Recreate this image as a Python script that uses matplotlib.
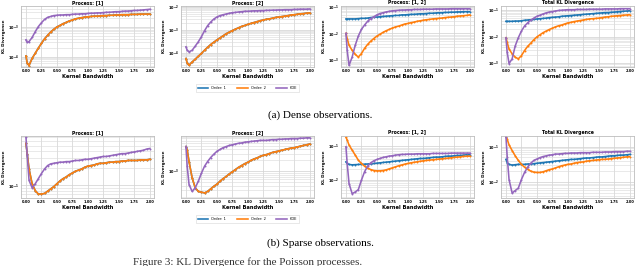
import numpy as np
import matplotlib
matplotlib.use("Agg")
import matplotlib.pyplot as plt
from matplotlib.ticker import LogLocator, NullFormatter, FixedLocator

# ---------------- data (log10 of KL divergence) ----------------
bandwidth = [0.0, 0.02, 0.05, 0.10, 0.15, 0.20, 0.25, 0.30, 0.35, 0.40, 0.45, 0.50,
             0.55, 0.60, 0.65, 0.70, 0.75, 0.80, 0.85, 0.90, 0.95, 1.00, 1.05, 1.10,
             1.15, 1.20, 1.25, 1.30, 1.35, 1.40, 1.45, 1.50, 1.55, 1.60, 1.65, 1.70,
             1.75, 1.80, 1.85, 1.90, 1.95, 2.00]

titles = ["Process: [1]", "Process: [2]", "Process: [1, 2]", "Total KL Divergence"]
legend_labels = ["Order: 1", "Order: 2", "KDE"]
xtick_vals = [0.0, 0.25, 0.5, 0.75, 1.0, 1.25, 1.5, 1.75, 2.0]
captions = ["(a) Dense observations.", "(b) Sparse observations."]

# Dense observations
dense_p1_order2 = [-3.98, -4.22, -4.30, -4.06, -3.89, -3.72, -3.56, -3.41, -3.29, -3.18, -3.09, -3.01,
                   -2.96, -2.90, -2.86, -2.81, -2.78, -2.74, -2.72, -2.70, -2.68, -2.67, -2.66, -2.65,
                   -2.65, -2.64, -2.63, -2.63, -2.62, -2.62, -2.61, -2.61, -2.60, -2.60, -2.60, -2.59,
                   -2.59, -2.59, -2.58, -2.58, -2.58, -2.58]
dense_p1_order1 = list(dense_p1_order2)
dense_p1_kde = [-3.44, -3.53, -3.50, -3.36, -3.17, -3.00, -2.87, -2.76, -2.69, -2.66, -2.63, -2.62,
                -2.61, -2.61, -2.60, -2.60, -2.59, -2.58, -2.58, -2.57, -2.57, -2.56, -2.55, -2.55,
                -2.54, -2.54, -2.53, -2.52, -2.52, -2.51, -2.50, -2.50, -2.49, -2.48, -2.48, -2.47,
                -2.46, -2.46, -2.45, -2.44, -2.43, -2.42]

dense_p2_order2 = [-4.26, -4.45, -4.55, -4.41, -4.29, -4.16, -4.04, -3.90, -3.77, -3.65, -3.55, -3.45,
                   -3.36, -3.27, -3.18, -3.11, -3.04, -2.98, -2.92, -2.86, -2.82, -2.77, -2.73, -2.69,
                   -2.65, -2.61, -2.58, -2.55, -2.53, -2.50, -2.47, -2.45, -2.43, -2.41, -2.39, -2.36,
                   -2.35, -2.33, -2.31, -2.30, -2.28, -2.27]
dense_p2_order1 = list(dense_p2_order2)
dense_p2_kde = [-3.75, -3.90, -3.97, -3.90, -3.72, -3.53, -3.31, -3.05, -2.83, -2.67, -2.54, -2.45,
                -2.39, -2.35, -2.32, -2.29, -2.26, -2.25, -2.23, -2.22, -2.20, -2.20, -2.19, -2.18,
                -2.18, -2.17, -2.17, -2.16, -2.16, -2.15, -2.15, -2.14, -2.14, -2.13, -2.13, -2.13,
                -2.12, -2.12, -2.11, -2.11, -2.11, -2.10]

dense_p12_order1 = [-1.46, -1.46, -1.46, -1.46, -1.46, -1.45, -1.44, -1.44, -1.43, -1.41, -1.40, -1.39,
                    -1.38, -1.37, -1.36, -1.35, -1.34, -1.33, -1.33, -1.31, -1.31, -1.30, -1.29, -1.29,
                    -1.28, -1.27, -1.27, -1.26, -1.25, -1.25, -1.24, -1.23, -1.23, -1.22, -1.22, -1.21,
                    -1.21, -1.20, -1.20, -1.19, -1.19, -1.19]
dense_p12_order2 = [-2.00, -2.19, -2.44, -2.63, -2.78, -2.88, -2.75, -2.56, -2.41, -2.29, -2.19, -2.10,
                    -2.03, -1.96, -1.90, -1.85, -1.80, -1.76, -1.73, -1.69, -1.65, -1.63, -1.60, -1.58,
                    -1.55, -1.53, -1.51, -1.49, -1.48, -1.46, -1.45, -1.44, -1.43, -1.41, -1.40, -1.39,
                    -1.38, -1.36, -1.35, -1.34, -1.33, -1.31]
dense_p12_kde = [-2.00, -2.63, -3.19, -2.88, -2.44, -2.10, -1.85, -1.69, -1.55, -1.45, -1.38, -1.31,
                 -1.26, -1.23, -1.20, -1.18, -1.16, -1.15, -1.14, -1.13, -1.13, -1.12, -1.12, -1.11,
                 -1.11, -1.11, -1.10, -1.10, -1.10, -1.10, -1.09, -1.09, -1.09, -1.09, -1.09, -1.08,
                 -1.08, -1.08, -1.08, -1.08, -1.08, -1.08]

dense_tot_order1 = [-1.42, -1.42, -1.42, -1.42, -1.41, -1.41, -1.40, -1.38, -1.37, -1.36, -1.35, -1.33,
                    -1.32, -1.31, -1.30, -1.28, -1.27, -1.26, -1.25, -1.23, -1.22, -1.21, -1.20, -1.19,
                    -1.18, -1.17, -1.16, -1.15, -1.14, -1.13, -1.12, -1.11, -1.10, -1.09, -1.09, -1.08,
                    -1.07, -1.06, -1.05, -1.04, -1.03, -1.02]
dense_tot_order2 = [-2.04, -2.22, -2.47, -2.65, -2.78, -2.84, -2.72, -2.53, -2.37, -2.25, -2.12, -2.01,
                    -1.93, -1.85, -1.79, -1.73, -1.68, -1.63, -1.59, -1.56, -1.52, -1.48, -1.46, -1.43,
                    -1.41, -1.39, -1.37, -1.35, -1.33, -1.32, -1.31, -1.30, -1.28, -1.26, -1.25, -1.23,
                    -1.22, -1.21, -1.20, -1.19, -1.18, -1.17]
dense_tot_kde = [-2.04, -2.59, -3.02, -2.84, -2.35, -2.04, -1.79, -1.60, -1.48, -1.38, -1.30, -1.23,
                 -1.19, -1.14, -1.10, -1.07, -1.05, -1.03, -1.01, -1.00, -0.99, -0.98, -0.98, -0.98,
                 -0.97, -0.97, -0.97, -0.97, -0.96, -0.96, -0.96, -0.96, -0.96, -0.95, -0.95, -0.95,
                 -0.95, -0.95, -0.94, -0.94, -0.94, -0.94]

# Sparse observations
sparse_p1_order2 = [-0.26, -0.44, -0.71, -0.97, -1.09, -1.15, -1.15, -1.14, -1.10, -1.06, -1.02, -0.97,
                    -0.92, -0.88, -0.85, -0.81, -0.78, -0.75, -0.73, -0.71, -0.68, -0.66, -0.65, -0.64,
                    -0.62, -0.61, -0.61, -0.60, -0.59, -0.59, -0.58, -0.58, -0.57, -0.57, -0.56, -0.56,
                    -0.56, -0.56, -0.55, -0.55, -0.55, -0.54]
sparse_p1_order1 = list(sparse_p1_order2)
sparse_p1_kde = [-0.15, -0.47, -0.91, -1.04, -0.97, -0.88, -0.79, -0.71, -0.65, -0.62, -0.61, -0.60,
                 -0.59, -0.59, -0.58, -0.58, -0.57, -0.56, -0.56, -0.55, -0.54, -0.54, -0.53, -0.52,
                 -0.51, -0.50, -0.49, -0.49, -0.48, -0.47, -0.46, -0.45, -0.44, -0.44, -0.43, -0.42,
                 -0.41, -0.40, -0.39, -0.38, -0.36, -0.35]

sparse_p2_order2 = [-2.32, -2.41, -2.73, -3.18, -3.45, -3.55, -3.57, -3.59, -3.55, -3.48, -3.41, -3.35,
                    -3.27, -3.20, -3.14, -3.07, -3.01, -2.95, -2.89, -2.84, -2.79, -2.75, -2.70, -2.66,
                    -2.63, -2.59, -2.56, -2.54, -2.51, -2.48, -2.46, -2.44, -2.42, -2.40, -2.38, -2.36,
                    -2.35, -2.33, -2.31, -2.29, -2.27, -2.25]
sparse_p2_order1 = list(sparse_p2_order2)
sparse_p2_kde = [-2.32, -2.86, -3.36, -3.55, -3.45, -3.27, -3.05, -2.86, -2.73, -2.62, -2.53, -2.45,
                 -2.40, -2.35, -2.32, -2.29, -2.27, -2.25, -2.23, -2.22, -2.20, -2.19, -2.18, -2.17,
                 -2.16, -2.15, -2.15, -2.15, -2.14, -2.13, -2.13, -2.12, -2.12, -2.11, -2.11, -2.10,
                 -2.10, -2.10, -2.09, -2.09, -2.08, -2.08]

sparse_p12_order1 = [-1.47, -1.52, -1.55, -1.56, -1.555, -1.55, -1.545, -1.54, -1.535, -1.53, -1.52, -1.51,
                     -1.50, -1.49, -1.48, -1.47, -1.46, -1.45, -1.44, -1.43, -1.42, -1.41, -1.40, -1.39,
                     -1.38, -1.37, -1.37, -1.36, -1.35, -1.34, -1.33, -1.33, -1.32, -1.31, -1.30, -1.30,
                     -1.29, -1.28, -1.28, -1.27, -1.26, -1.26]
sparse_p12_order2 = [-0.74, -0.82, -0.97, -1.12, -1.27, -1.42, -1.52, -1.60, -1.66, -1.70, -1.73, -1.74,
                     -1.74, -1.73, -1.71, -1.68, -1.65, -1.62, -1.59, -1.565, -1.54, -1.52, -1.50, -1.485,
                     -1.47, -1.455, -1.44, -1.43, -1.42, -1.41, -1.40, -1.39, -1.38, -1.37, -1.36, -1.35,
                     -1.34, -1.33, -1.32, -1.31, -1.305, -1.30]
sparse_p12_kde = [-1.02, -1.52, -2.12, -2.42, -2.37, -2.30, -2.02, -1.77, -1.60, -1.50, -1.44, -1.40,
                  -1.37, -1.34, -1.32, -1.30, -1.29, -1.27, -1.26, -1.25, -1.25, -1.24, -1.24, -1.24,
                  -1.23, -1.23, -1.23, -1.23, -1.23, -1.22, -1.22, -1.22, -1.22, -1.22, -1.22, -1.21,
                  -1.21, -1.21, -1.21, -1.21, -1.21, -1.21]

sparse_tot_order1 = [-1.36, -1.45, -1.50, -1.52, -1.51, -1.50, -1.50, -1.50, -1.49, -1.49, -1.48, -1.47,
                     -1.46, -1.45, -1.44, -1.43, -1.42, -1.41, -1.40, -1.39, -1.38, -1.37, -1.36, -1.36,
                     -1.35, -1.34, -1.33, -1.32, -1.32, -1.31, -1.30, -1.29, -1.29, -1.28, -1.27, -1.26,
                     -1.26, -1.25, -1.24, -1.24, -1.23, -1.22]
sparse_tot_order2 = [-0.72, -0.79, -0.95, -1.11, -1.26, -1.39, -1.50, -1.58, -1.64, -1.69, -1.72, -1.73,
                     -1.73, -1.71, -1.68, -1.65, -1.63, -1.60, -1.57, -1.54, -1.52, -1.50, -1.49, -1.47,
                     -1.45, -1.44, -1.43, -1.41, -1.40, -1.39, -1.38, -1.37, -1.36, -1.36, -1.35, -1.34,
                     -1.33, -1.32, -1.31, -1.30, -1.29, -1.28]
sparse_tot_kde = [-0.72, -1.28, -1.93, -2.31, -2.24, -2.17, -1.93, -1.73, -1.58, -1.47, -1.39, -1.35,
                  -1.31, -1.28, -1.26, -1.24, -1.23, -1.21, -1.21, -1.20, -1.19, -1.19, -1.18, -1.18,
                  -1.18, -1.17, -1.17, -1.17, -1.17, -1.16, -1.16, -1.16, -1.16, -1.15, -1.15, -1.15,
                  -1.14, -1.14, -1.14, -1.14, -1.13, -1.13]

# y-limits (log10) per panel
ylims_dense = [(-4.35, -2.31), (-4.63, -1.97), (-3.25, -0.98), (-3.15, -0.84)]
ylims_sparse = [(-1.22, -0.13), (-3.73, -2.03), (-2.55, -0.70), (-2.45, -0.70)]

rows = [
    [(dense_p1_order1, dense_p1_order2, dense_p1_kde),
     (dense_p2_order1, dense_p2_order2, dense_p2_kde),
     (dense_p12_order1, dense_p12_order2, dense_p12_kde),
     (dense_tot_order1, dense_tot_order2, dense_tot_kde)],
    [(sparse_p1_order1, sparse_p1_order2, sparse_p1_kde),
     (sparse_p2_order1, sparse_p2_order2, sparse_p2_kde),
     (sparse_p12_order1, sparse_p12_order2, sparse_p12_kde),
     (sparse_tot_order1, sparse_tot_order2, sparse_tot_kde)],
]
row_ylims = [ylims_dense, ylims_sparse]

# ---------------- figure ----------------
W, H = 640, 266
fig = plt.figure(figsize=(W / 100, H / 100), dpi=100)
colors = ["#1f77b4", "#ff7f0e", "#9467bd"]

lefts = [21, 181, 341, 501]
ax_w = 133
row_tb = [(6, 67), (136, 198)]

x = np.array(bandwidth)
for r in range(2):
    top, bot = row_tb[r]
    for c in range(4):
        ax = fig.add_axes([lefts[c] / W, 1 - bot / H, ax_w / W, (bot - top) / H])
        series = rows[r][c]
        handles = []
        for s, col in zip(series, colors):
            h, = ax.plot(x, 10 ** np.array(s), color=col, lw=1.15, marker='.',
                         markersize=2.8, markeredgewidth=0)
            handles.append(h)
        ax.set_yscale('log')
        lo, hi = row_ylims[r][c]
        ax.set_ylim(10 ** lo, 10 ** hi)
        ax.set_xlim(-0.08, 2.07)
        ax.xaxis.set_major_locator(FixedLocator(xtick_vals))
        ax.set_xticklabels([f"{v:.2f}" for v in xtick_vals])
        ax.yaxis.set_major_locator(LogLocator(base=10, numticks=10))
        ax.yaxis.set_minor_locator(LogLocator(base=10, subs=np.arange(2, 10), numticks=20))
        ax.yaxis.set_minor_formatter(NullFormatter())
        ax.grid(True, which='major', axis='both', color='#d4d4d4', lw=0.55)
        ax.grid(True, which='minor', axis='y', color='#dcdcdc', lw=0.45)
        ax.set_axisbelow(True)
        for sp in ax.spines.values():
            sp.set_color('#bdbdbd')
            sp.set_linewidth(0.6)
        ax.tick_params(axis='both', which='both', length=0, pad=1.5, labelsize=2.6)
        for lab in ax.get_xticklabels() + ax.get_yticklabels():
            lab.set_fontweight('bold')
        ax.set_title(titles[c], fontsize=3.3, fontweight='bold', pad=1.5)
        ax.set_xlabel("Kernel Bandwidth", fontsize=3.7, fontweight='bold', labelpad=1)
        ax.set_ylabel("KL Divergence", fontsize=3.0, fontweight='bold', labelpad=1.5)
        if c == 1:
            leg = ax.legend(handles, legend_labels, loc='upper center',
                            bbox_to_anchor=(0.5, -0.25), ncol=3, fontsize=2.6,
                            frameon=True, handlelength=3.0, columnspacing=3.0,
                            borderpad=0.5, handletextpad=0.8)
            leg.get_frame().set_linewidth(0.4)
            leg.get_frame().set_edgecolor('#cccccc')
            for lh in leg.get_lines():
                lh.set_marker('')

fig.text(0.5, 1 - 115 / H, captions[0], ha='center', va='center',
         fontsize=8, family='Liberation Serif')
fig.text(0.5, 1 - 243 / H, captions[1], ha='center', va='center',
         fontsize=8, family='Liberation Serif')
fig.text(133 / W, 1 - 257 / H, "Figure 3: KL Divergence for the Poisson processes.",
         ha='left', va='top', fontsize=8, family='Liberation Serif', color='#333333')

fig.savefig("out.png", dpi=100)
